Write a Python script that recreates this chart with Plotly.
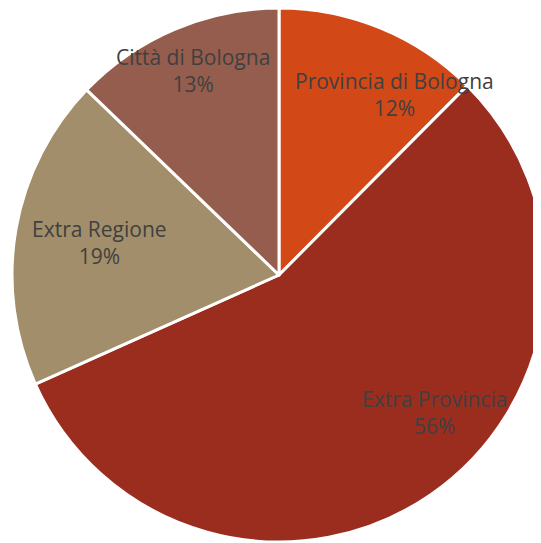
import plotly.graph_objects as go

labels = ["Provincia di Bologna", "Extra Provincia", "Extra Regione", "Città di Bologna"]
values = [12.45, 55.85, 18.9, 12.8]
colors = ["#D34817", "#9B2D1F", "#A28E6A", "#955D4D"]

# label centres in screen pixels (x from left, y from top)
label_px = [(394, 94), (434, 412), (99, 242), (193, 70)]

W, H = 541, 543
OFF = 8  # page margin around the plot div

fig = go.Figure(go.Pie(
    labels=labels,
    values=values,
    sort=False,
    direction="clockwise",
    rotation=0,
    textinfo="none",
    hoverinfo="label+percent",
    marker=dict(colors=colors, line=dict(color="white", width=3)),
    domain=dict(x=[4 / W, 538 / W], y=[(H - 534) / H, 1.0]),
    showlegend=False,
))

total = sum(values)
for lab, v, (px, py) in zip(labels, values, label_px):
    fig.add_annotation(
        x=(px - OFF) / W, y=1 - (py - OFF) / H, xref="paper", yref="paper",
        xanchor="center", yanchor="middle",
        text=f"{lab}<br>{round(v / total * 100)}%",
        showarrow=False, align="center",
        font=dict(family="Open Sans", size=21, color="#404040"),
    )

fig.update_layout(
    width=W, height=H,
    margin=dict(l=0, r=0, t=0, b=0),
    paper_bgcolor="white",
)

fig.write_html("out.html")
